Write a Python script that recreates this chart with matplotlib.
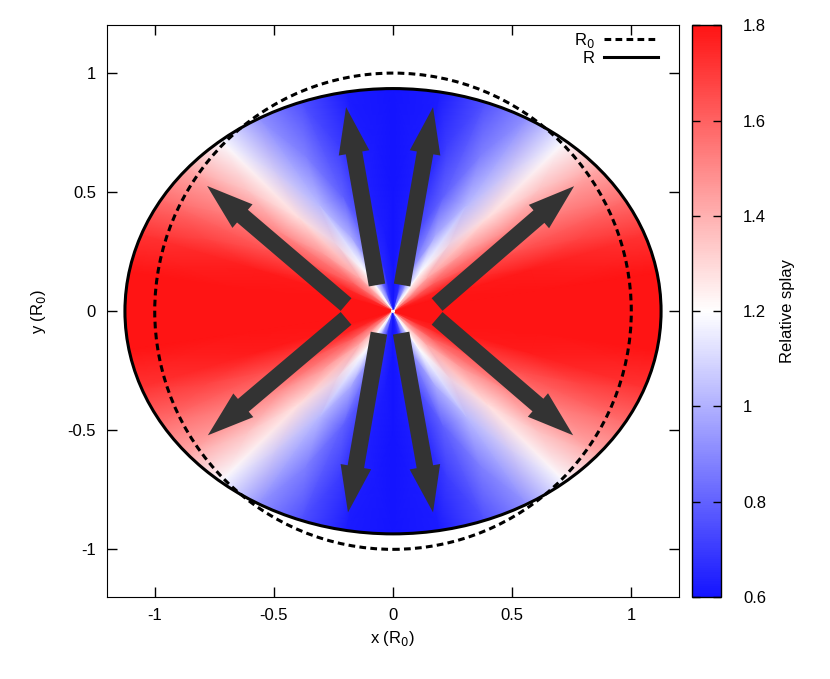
"""Relative splay map in a deformed droplet, gnuplot style."""

import numpy as np
import matplotlib
matplotlib.use("Agg")
import matplotlib.pyplot as plt
from matplotlib.colors import LinearSegmentedColormap
from matplotlib.patches import Ellipse, Circle
from matplotlib.lines import Line2D
from matplotlib.ticker import FormatStrFormatter

plt.rcParams["font.family"] = ["Liberation Sans", "DejaVu Sans"]
plt.rcParams["font.size"] = 12

# splay in the first quadrant, by elliptic angle t (deg from x axis)
quad_angles = [0, 10, 20, 30, 40, 50, 60, 70, 80, 90]
# near the centre (r ~ 0.2), halfway (r ~ 0.55) and at the edge (r = 1)
splay_inner = [1.90, 1.90, 1.85, 1.75, 1.60, 1.42, 1.20, 0.90, 0.65, 0.55]
splay_mid = [1.90, 1.87, 1.78, 1.65, 1.50, 1.28, 1.02, 0.80, 0.63, 0.55]
splay_outer = [1.90, 1.85, 1.72, 1.57, 1.42, 1.19, 0.92, 0.75, 0.62, 0.55]
ring_radii = [0.2, 0.55, 1.0]

# droplet shape (units of R0)
ellipse_a = 1.125
ellipse_b = 0.935
circle_r0 = 1.0

# arrows: tail (x, y) and tip (x, y)
arrow_tail_x = [-0.197, 0.185, -0.197, 0.185, -0.067, 0.038, -0.059, 0.034]
arrow_tail_y = [0.028, 0.028, -0.030, -0.030, 0.110, 0.110, -0.092, -0.092]
arrow_tip_x = [-0.780, 0.760, -0.777, 0.756, -0.197, 0.168, -0.189, 0.168]
arrow_tip_y = [0.526, 0.525, -0.521, -0.521, 0.857, 0.857, -0.845, -0.845]

x_ticks = [-1, -0.5, 0, 0.5, 1]
y_ticks = [-1, -0.5, 0, 0.5, 1]
cbar_ticks = [0.6, 0.8, 1.0, 1.2, 1.4, 1.6, 1.8]


def mirror(vals):
    v = np.array(vals, dtype=float)
    return np.concatenate([v, v[::-1][1:], v[1:], v[::-1][1:]])


q = np.array(quad_angles, dtype=float)
theta = np.concatenate([q, 180 - q[::-1][1:], 180 + q[1:], 360 - q[::-1][1:]])

radii = np.array([0.01] + ring_radii)
T, R = np.meshgrid(np.deg2rad(theta), radii)
X = ellipse_a * R * np.cos(T)
Y = ellipse_b * R * np.sin(T)
C = np.vstack([mirror(splay_inner), mirror(splay_inner),
               mirror(splay_mid), mirror(splay_outer)])

cmap = LinearSegmentedColormap.from_list(
    "bwr_gp", ["#1414ff", "#ffffff", "#ff1414"])

fig = plt.figure(figsize=(8.30, 6.79), dpi=100)
ax = fig.add_axes([0.129, 0.1208, 0.689, 0.8417])
cax = fig.add_axes([0.8337, 0.1208, 0.035, 0.8417])

mesh = ax.pcolormesh(X, Y, C, shading="gouraud", cmap=cmap,
                     vmin=0.6, vmax=1.8, zorder=1)

ax.add_patch(Circle((0, 0), circle_r0, fill=False, ec="black", lw=2.2,
                    ls=(0, (2.2, 1.4)), zorder=3))
ax.add_patch(Ellipse((0, 0), 2 * ellipse_a, 2 * ellipse_b, fill=False,
                     ec="black", lw=2.2, zorder=3))

for tx, ty, hx, hy in zip(arrow_tail_x, arrow_tail_y, arrow_tip_x, arrow_tip_y):
    ax.arrow(tx, ty, hx - tx, hy - ty, width=0.07, head_width=0.13,
             head_length=0.195, length_includes_head=True,
             fc="#333333", ec="none", zorder=4)

ax.set_xlim(-1.2, 1.2)
ax.set_ylim(-1.2, 1.2)
ax.set_xticks(x_ticks)
ax.set_yticks(y_ticks)
ax.xaxis.set_major_formatter(FormatStrFormatter("%g"))
ax.yaxis.set_major_formatter(FormatStrFormatter("%g"))
ax.tick_params(direction="in", length=7, width=1, top=True, right=True, pad=8)
ax.set_xlabel("x (R$_0$)", labelpad=4)
ax.set_ylabel("y (R$_0$)", labelpad=14)

handles = [Line2D([], [], color="black", lw=2.2, ls=(0, (2.2, 1.4))),
           Line2D([], [], color="black", lw=2.2)]
ax.legend(handles, ["R$_0$", "R"], loc="upper right", markerfirst=False,
          frameon=False, handlelength=3.2, handletextpad=0.6,
          labelspacing=0.05, borderpad=0, borderaxespad=0,
          bbox_to_anchor=(0.963, 0.99))

cb = fig.colorbar(mesh, cax=cax, ticks=cbar_ticks)
cb.ax.yaxis.set_major_formatter(FormatStrFormatter("%g"))
cb.ax.tick_params(direction="in", length=6, width=1, left=True, right=True,
                  pad=16)
cb.set_label("Relative splay", labelpad=10)
cb.outline.set_linewidth(1)

fig.savefig("out.png", dpi=100)
